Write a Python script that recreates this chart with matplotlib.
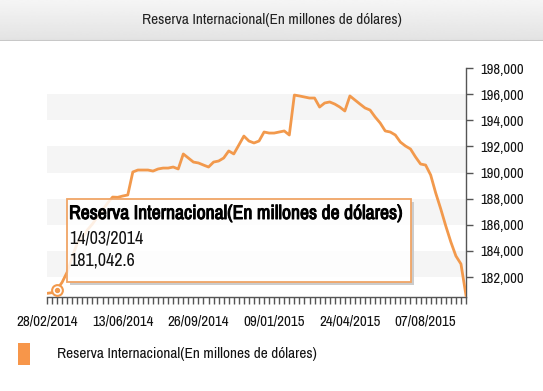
import numpy as np
import pandas as pd
import matplotlib
matplotlib.use('Agg')
import matplotlib.pyplot as plt
import matplotlib.dates as mdates
import matplotlib.patheffects as pe
from matplotlib.patches import Rectangle
from matplotlib.ticker import FixedLocator, FuncFormatter

# fuente estrecha (parecida a Arial Narrow)
plt.rcParams['font.family'] = ['Archivo Narrow', 'Liberation Sans', 'DejaVu Sans']

titulo = 'Reserva Internacional(En millones de dólares)'
# datos semanales (viernes) desde 28/02/2014
fechas = pd.date_range('2014-02-28', periods=84, freq='7D')
reservas = [180750, 180800, 181042.6, 181600, 182380, 183530, 184600, 185000, 185600, 186060,
            186600, 187130, 187660, 188120, 188100, 188200, 188280, 190040, 190190, 190190,
            190190, 190110, 190270, 190340, 190340, 190420, 190270, 191420, 191110, 190800,
            190730, 190570, 190420, 190800, 190880, 191110, 191650, 191420, 192100, 192790,
            192410, 192260, 192410, 193100, 193020, 193020, 193100, 193180, 192870, 195930,
            195860, 195780, 195700, 195700, 195010, 195320, 195400, 195240, 195010, 194710,
            195860, 195550, 195240, 194940, 194780, 194250, 193790, 193180, 193100, 192870,
            192330, 192030, 191800, 191190, 190650, 190570, 189810, 188430, 187210, 185900,
            184680, 183610, 183000, 180600]
yticks = list(range(182000, 198001, 2000))
tooltip_fecha = '14/03/2014'
tooltip_valor = '181,042.6'

naranja = '#f2994c'
W, H = 543, 391
fig = plt.figure(figsize=(W / 100, H / 100), dpi=100)

# barra del titulo
bar = fig.add_axes([0, 1 - 41 / H, 1, 41 / H])
grad = np.linspace(0.96, 0.89, 50).reshape(-1, 1)
bar.imshow(grad, aspect='auto', cmap='gray', vmin=0, vmax=1, extent=[0, 1, 0, 1])
bar.axhline(0, color='#c8c8c8', lw=1.5)
bar.axis('off')
fig.text(0.5, 1 - 20 / H, titulo, ha='center', va='center', fontsize=11, color='#222222')

ax = fig.add_axes([47 / W, 1 - 297 / H, (466 - 47) / W, (297 - 68) / H])
# bandas grises
for y0 in [194000, 190000, 186000, 182000]:
    ax.axhspan(y0, y0 + 2000, color='#f5f5f5', lw=0, zorder=0)
ax.plot(fechas, reservas, color=naranja, lw=2, zorder=3, solid_joinstyle='round')
ax.set_xlim(fechas[0], fechas[-1])
ax.set_ylim(180470, 198000)

ax.yaxis.tick_right()
ax.set_yticks(yticks)
ax.yaxis.set_major_formatter(FuncFormatter(lambda v, p: '{:,.0f}'.format(v)))
ax.xaxis.set_major_locator(FixedLocator(mdates.date2num(fechas[::15])))
ax.xaxis.set_major_formatter(mdates.DateFormatter('%d/%m/%Y'))
ax.xaxis.set_minor_locator(FixedLocator(mdates.date2num(fechas)))
ax.tick_params(axis='x', which='both', length=5, width=1, color='#555555', pad=7.5,
               labelsize=10.8, labelcolor='#111111')
ax.tick_params(axis='y', length=5, width=1, color='#555555', pad=5, labelsize=10.5,
               labelcolor='#111111')
for s in ['left', 'top']:
    ax.spines[s].set_visible(False)
for s in ['right', 'bottom']:
    ax.spines[s].set_color('#555555')
    ax.spines[s].set_linewidth(1)

# punto resaltado
ax.scatter([fechas[2]], [reservas[2]], s=60, facecolor='white', edgecolor=naranja,
           lw=1.5, zorder=5, clip_on=False)
ax.scatter([fechas[2]], [reservas[2]], s=8, color=naranja, zorder=6, clip_on=False)

# tooltip
x0, y0, x1, y1 = 67, 199, 411, 282
# sombra solo en los bordes derecho e inferior
fig.add_artist(Rectangle((x1 / W, 1 - (y1 + 3) / H), 3 / W, (y1 - y0) / H,
                         transform=fig.transFigure, color='#cccccc', lw=0, zorder=8))
fig.add_artist(Rectangle(((x0 + 3) / W, 1 - (y1 + 3) / H), (x1 - x0) / W, 3 / H,
                         transform=fig.transFigure, color='#cccccc', lw=0, zorder=8))
fig.add_artist(Rectangle((x0 / W, 1 - y1 / H), (x1 - x0) / W, (y1 - y0) / H,
                         transform=fig.transFigure, facecolor='white', alpha=0.85,
                         edgecolor='none', zorder=9))
fig.add_artist(Rectangle((x0 / W, 1 - y1 / H), (x1 - x0) / W, (y1 - y0) / H,
                         transform=fig.transFigure, facecolor='none',
                         edgecolor='#f0a566', lw=1.3, zorder=10))
t = fig.text(69 / W, 1 - 219 / H, titulo, fontsize=14.2, color='black', zorder=11)
t.set_path_effects([pe.withStroke(linewidth=0.7, foreground='black')])
fig.text(69 / W, 1 - 243 / H, tooltip_fecha, fontsize=13, color='#111111', zorder=11)
fig.text(69 / W, 1 - 266 / H, tooltip_valor, fontsize=13, color='#111111', zorder=11)

# leyenda
fig.add_artist(Rectangle((18 / W, 1 - 365 / H), 12 / W, 22 / H, transform=fig.transFigure,
                         color='#f7964a', lw=0))
fig.text(57 / W, 1 - 354 / H, titulo, fontsize=11, va='center', color='#111111')

fig.savefig('out.png', dpi=100)
